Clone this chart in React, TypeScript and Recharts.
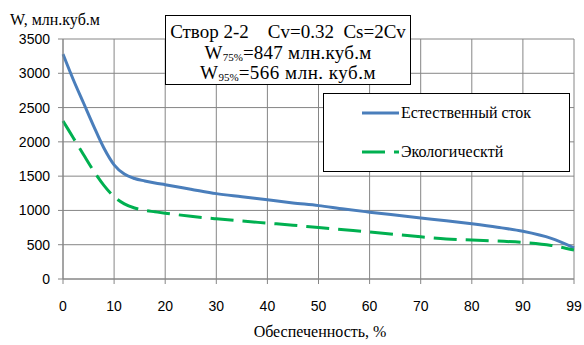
import React from 'react';
import { LineChart, Line, XAxis, YAxis, CartesianGrid, Legend } from 'recharts';

// обеспеченность, %
const prob = [0, 2, 4, 6, 8, 10, 12, 14, 16, 18, 20, 25, 30, 35, 40, 45, 50, 55, 60, 65, 70, 75, 80, 85, 90, 95, 99];
const naturalFlow = [3280, 2910, 2570, 2230, 1910, 1665, 1530, 1465, 1430, 1400, 1375, 1310, 1245, 1200, 1155, 1110, 1070, 1020, 975, 932, 890, 850, 805, 755, 695, 592, 455];
const ecoFlow = [2305, 2060, 1815, 1575, 1365, 1200, 1095, 1035, 1000, 980, 960, 915, 878, 845, 815, 785, 750, 718, 686, 650, 615, 585, 568, 553, 534, 490, 422];

const xTickLabels = ['0', '10', '20', '30', '40', '50', '60', '70', '80', '90', '99'];
const yTicks = [0, 500, 1000, 1500, 2000, 2500, 3000, 3500];

const BLUE = '#4A7EBB';
const GREEN = '#00B050';
const GRID = '#868686';
const SERIF = 'Liberation Serif';
const SANS = 'Liberation Sans';

// the category axis puts 99 where 100 would be
const toAxis = (p: number) => (p <= 90 ? p : 90 + ((p - 90) * 10) / 9);

const data = prob.map((p, i) => ({
  x: toAxis(p),
  natural: naturalFlow[i],
  eco: ecoFlow[i],
}));

const xTicks = xTickLabels.map((_, i) => i * 10);

const renderLegend = (props: any) => {
  const items = props.payload || [];
  return (
    <div
      style={{
        position: 'relative',
        width: 247,
        height: 79,
        border: '1px solid #000',
        boxSizing: 'border-box',
        background: '#fff',
      }}
    >
      <svg width={247} height={79} style={{ position: 'absolute', left: -1, top: -1 }}>
        <line x1={39} x2={76} y1={20} y2={20} stroke={BLUE} strokeWidth={3} />
        <line x1={39} x2={76} y1={59} y2={59} stroke={GREEN} strokeWidth={3} strokeDasharray="23 9" />
      </svg>
      {items.map((item: any, i: number) => (
        <div
          key={item.value}
          style={{
            position: 'absolute',
            left: 77,
            top: (i === 0 ? 20 : 59) - 11,
            lineHeight: '20px',
            fontFamily: SERIF,
            fontSize: 16,
            color: '#000',
            whiteSpace: 'nowrap',
          }}
        >
          {item.value}
        </div>
      ))}
    </div>
  );
};

const sub = { fontSize: 11, verticalAlign: '-2px', letterSpacing: 0 } as React.CSSProperties;

export default function App() {
  return (
    <div style={{ position: 'absolute', left: 0, top: 0, width: 584, height: 345, background: '#fff' }}>
      <LineChart width={584} height={345} data={data} margin={{ top: 39, right: 10, bottom: 26, left: 0 }}>
        <CartesianGrid stroke={GRID} strokeWidth={1} />
        <XAxis
          type="number"
          dataKey="x"
          domain={[0, 100]}
          ticks={xTicks}
          tickFormatter={(v: number) => xTickLabels[Math.round(v / 10)]}
          height={40}
          stroke={GRID}
          tickSize={5}
          tickMargin={17}
          tick={{ fill: '#000', fontSize: 14, fontFamily: SANS }}
        />
        <YAxis
          domain={[0, 3500]}
          ticks={yTicks}
          width={63}
          stroke={GRID}
          tickSize={5}
          tickMargin={8}
          tick={{ fill: '#000', fontSize: 14, fontFamily: SANS }}
        />
        <Legend
          layout="horizontal"
          verticalAlign="middle"
          align="center"
          content={renderLegend}
          wrapperStyle={{ left: 323, top: 93, width: 247, height: 79 }}
        />
        <Line
          type="monotone"
          dataKey="natural"
          name="Естественный сток"
          stroke={BLUE}
          strokeWidth={3}
          dot={false}
          isAnimationActive={false}
        />
        <Line
          type="monotone"
          dataKey="eco"
          name="Экологическтй"
          stroke={GREEN}
          strokeWidth={3}
          strokeDasharray="23 9"
          dot={false}
          isAnimationActive={false}
        />
      </LineChart>

      <div style={{ position: 'absolute', left: 10, top: 10, lineHeight: '20px', fontFamily: SERIF, fontSize: 16, whiteSpace: 'nowrap' }}>
        W, млн.куб.м
      </div>
      <div style={{ position: 'absolute', left: 0, width: 640, top: 322, textAlign: 'center', lineHeight: '20px', fontFamily: SERIF, fontSize: 16 }}>
        Обеспеченность, %
      </div>

      <div
        style={{
          position: 'absolute',
          left: 165,
          top: 15,
          width: 246,
          height: 70,
          border: '1px solid #000',
          boxSizing: 'border-box',
          background: '#fff',
          fontFamily: SERIF,
          fontSize: 19,
          textAlign: 'center',
          whiteSpace: 'pre',
        }}
      >
        <div style={{ position: 'absolute', left: 0, right: 0, top: 5, lineHeight: '22px' }}>{'Створ 2-2    Cv=0.32  Cs=2Cv'}</div>
        <div style={{ position: 'absolute', left: 0, right: 0, top: 26, lineHeight: '22px', letterSpacing: 0.25 }}>
          W<span style={sub}>75%</span>=847 млн.куб.м
        </div>
        <div style={{ position: 'absolute', left: 0, right: 0, top: 46, lineHeight: '22px', letterSpacing: 0.5 }}>
          W<span style={sub}>95%</span>=566 млн. куб.м
        </div>
      </div>
    </div>
  );
}
